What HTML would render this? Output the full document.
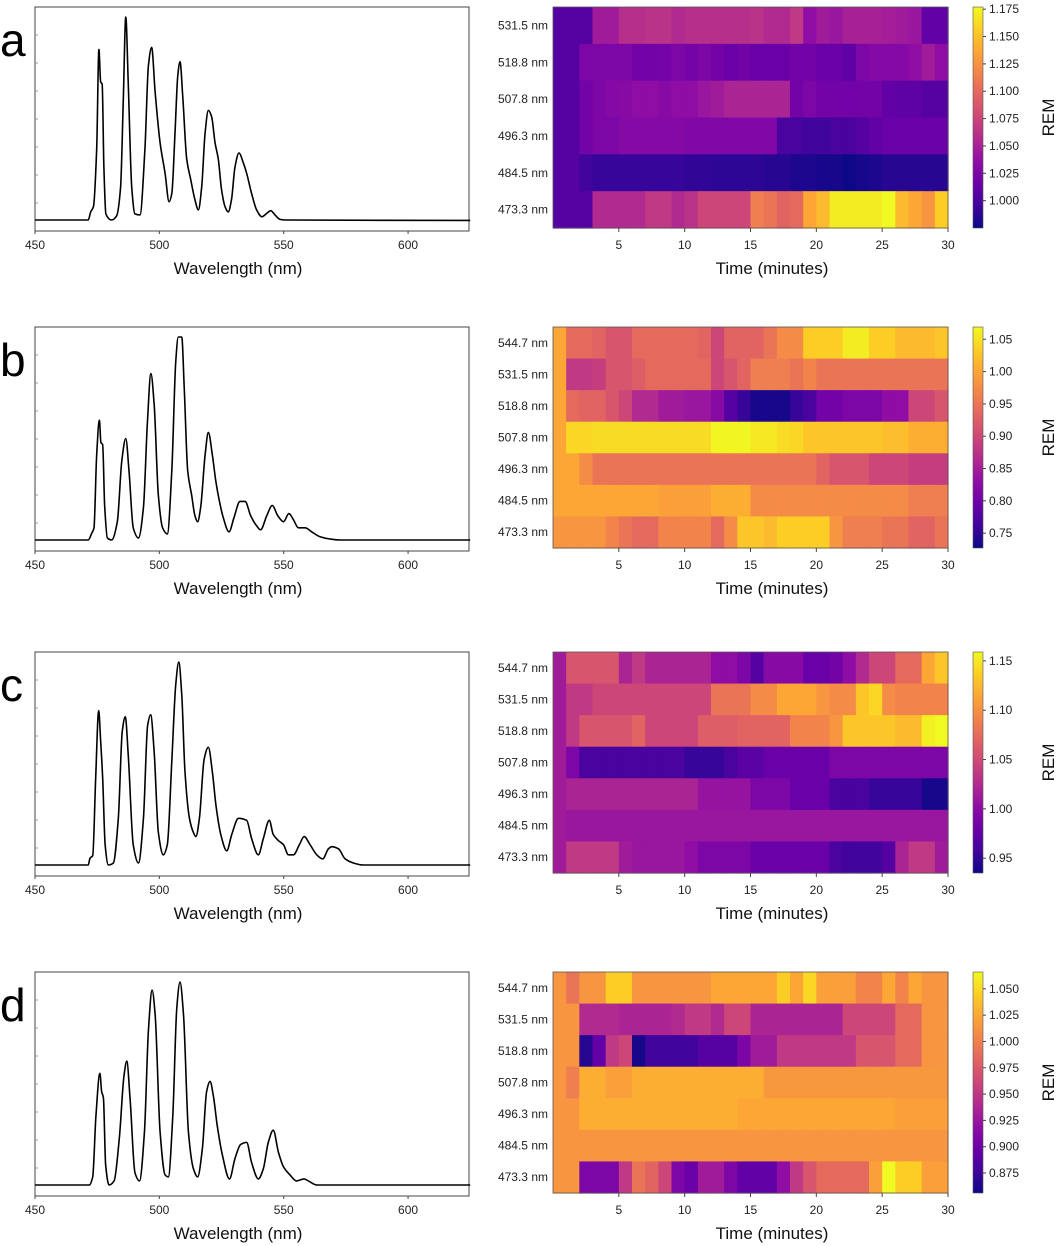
<!DOCTYPE html>
<html><head><meta charset="utf-8"><style>
html,body{margin:0;padding:0;background:#fff;}
svg{display:block;font-family:"Liberation Sans",Arial,sans-serif;}
</style></head><body>
<svg id="fig" width="1059" height="1246" viewBox="0 0 1059 1246" xmlns="http://www.w3.org/2000/svg">
<defs>
<linearGradient id="plasma" x1="0" y1="1" x2="0" y2="0">
<stop offset="0" stop-color="#0d0887"/><stop offset="0.1" stop-color="#41049d"/><stop offset="0.2" stop-color="#6a00a8"/><stop offset="0.3" stop-color="#8f0da4"/><stop offset="0.4" stop-color="#b12a90"/><stop offset="0.5" stop-color="#cc4778"/><stop offset="0.6" stop-color="#e16462"/><stop offset="0.7" stop-color="#f2844b"/><stop offset="0.8" stop-color="#fca636"/><stop offset="0.9" stop-color="#fcce25"/><stop offset="1" stop-color="#f0f921"/>
</linearGradient>
</defs>
</svg>
<script>
// ---------- data ----------
const panelLetters = ["a","b","c","d"];
const wlTicks = [450,500,550,600];
const timeTicks = [5,10,15,20,25,30];
const rowsA = ["531.5 nm","518.8 nm","507.8 nm","496.3 nm","484.5 nm","473.3 nm"];
const rowsB = ["544.7 nm","531.5 nm","518.8 nm","507.8 nm","496.3 nm","484.5 nm","473.3 nm"];
// spectra: [wavelength nm, normalized intensity]
const specA = [[450,0],[471.4,0],[472.4,.04],[473.5,.066],[474.8,.35],[475.7,.84],[476.4,.68],[477,.67],[477.7,.26],[478.5,.03],[480.8,0],[482.8,.02],[484.4,.16],[485.5,.59],[486.5,1],[487.5,.67],[488.9,.16],[490.2,.03],[492.2,.025],[494.2,.35],[495.6,.76],[496.9,.85],[498.3,.63],[500.3,.38],[502.3,.23],[503.9,.09],[505,.13],[506.3,.43],[507.4,.71],[508.3,.78],[509.4,.61],[511,.30],[512.6,.2],[514.3,.1],[515.7,.05],[517,.16],[518.4,.43],[519.7,.54],[521,.51],[522.4,.38],[523.7,.3],[525,.15],[526.4,.066],[527.7,.04],[529,.1],[530.4,.26],[532,.33],[533.8,.28],[535.1,.23],[537.1,.13],[539.1,.05],[541.2,.016],[543.2,.033],[544.8,.046],[546.5,.025],[548.5,.003],[551,0],[625,-0.002]];
const specB = [[450,0],[471.4,0],[472.8,.033],[473.7,.058],[474.8,.42],[475.9,.59],[476.5,.48],[477.2,.47],[478,.17],[479.1,.01],[480.8,0],[483.1,.09],[484.9,.39],[486.5,.5],[487.8,.34],[489.5,.06],[491.6,.01],[493.6,.16],[495.2,.58],[496.6,.82],[497.9,.67],[499.6,.22],[501.3,.06],[503.2,.03],[505,.34],[506.6,.88],[507.6,1],[509,1],[510,.75],[511.4,.34],[513,.22],[514.3,.12],[515.4,.09],[516.6,.16],[518.4,.42],[519.7,.53],[521.3,.42],[522.7,.29],[524,.2],[525.7,.11],[528,.04],[530,.11],[532.4,.19],[534.5,.19],[536.7,.12],[539.1,.07],[540.7,.05],[543.2,.12],[545.4,.17],[547.6,.12],[549.9,.09],[552.1,.13],[553.9,.1],[555.9,.06],[558.6,.06],[561.3,.04],[564.6,.016],[568.6,.005],[572.7,0],[625,0]];
const specC = [[450,0],[471.4,0],[472.1,.033],[473.2,.046],[474.4,.43],[475.6,.76],[476.4,.61],[477.2,.43],[478.2,.1],[479.5,0],[481.5,.01],[483.5,.23],[485.1,.66],[486.3,.73],[487.5,.54],[489.5,.1],[491.6,.01],[493.6,.23],[495.3,.69],[496.5,.74],[497.9,.56],[499.6,.16],[501.6,.05],[503.2,.1],[505,.51],[506.6,.89],[507.8,1],[509,.84],[510.3,.46],[512.1,.23],[513.7,.16],[514.7,.14],[516.1,.23],[518,.52],[519.7,.58],[521.3,.46],[522.8,.29],[524.7,.15],[527.1,.07],[529.1,.15],[531.8,.23],[535.1,.22],[537.1,.13],[539.8,.05],[541.8,.13],[544.2,.22],[545.8,.15],[547.9,.12],[549.9,.1],[551.9,.05],[553.9,.05],[556.3,.1],[558.2,.14],[560.6,.1],[563.3,.05],[565.7,.03],[568,.08],[569.3,.09],[572,.08],[574.7,.03],[578,.01],[582,0],[625,0]];
const specD = [[450,0],[471.8,0],[473.2,.04],[474.5,.34],[476.1,.55],[476.8,.46],[477.5,.43],[478.4,.1],[479.8,0],[481.8,.02],[483.9,.23],[485.8,.54],[486.9,.61],[488.2,.43],[490.2,.06],[492,.02],[494,.26],[495.6,.76],[497.1,.96],[498.3,.84],[500.3,.26],[502.3,.05],[503.6,.04],[505.4,.34],[507,.87],[508.3,1],[509.7,.84],[511.7,.26],[513.7,.08],[515.4,.04],[517.3,.18],[519,.46],[520.4,.51],[521.7,.44],[523.3,.29],[525.3,.15],[528.2,.03],[530.4,.13],[532.7,.2],[535.1,.21],[537.1,.11],[539.8,.03],[541.8,.08],[543.8,.21],[545.8,.27],[547.9,.16],[549.9,.09],[552.5,.05],[555.2,.02],[558.2,.03],[559.9,.02],[563.3,0],[625,0]];
// heatmap values as fraction of colorbar range (0 = bottom, 1 = top), 30 one-minute columns
const heatA = [
[.15,.15,.15,.35,.35,.42,.42,.43,.43,.4,.42,.42,.42,.42,.42,.43,.4,.4,.45,.3,.35,.33,.37,.37,.37,.36,.35,.33,.18,.18],
[.15,.15,.25,.25,.25,.25,.22,.22,.23,.25,.23,.25,.22,.2,.22,.2,.2,.2,.22,.22,.2,.2,.17,.25,.27,.27,.27,.3,.35,.3],
[.15,.15,.22,.25,.27,.28,.3,.3,.28,.3,.3,.33,.35,.38,.38,.38,.38,.38,.22,.25,.22,.22,.22,.22,.22,.18,.17,.17,.15,.15],
[.15,.15,.22,.25,.25,.27,.27,.27,.27,.27,.26,.26,.26,.26,.26,.26,.26,.12,.12,.1,.1,.12,.12,.15,.18,.2,.2,.2,.2,.2],
[.15,.15,.1,.08,.08,.08,.08,.08,.08,.08,.07,.07,.06,.06,.06,.06,.05,.05,.03,.03,.02,.02,0,.02,.03,.05,.05,.05,.05,.05],
[.15,.15,.15,.4,.4,.4,.4,.45,.45,.4,.43,.5,.5,.5,.5,.68,.65,.6,.62,.8,.85,.97,.97,.97,.97,1,.85,.8,.75,.9]];
const heatB = [
[.8,.62,.62,.6,.55,.55,.62,.62,.62,.62,.62,.6,.5,.6,.6,.6,.65,.72,.72,.9,.9,.9,.97,.97,.9,.9,.85,.85,.85,.88],
[.8,.45,.45,.47,.55,.55,.58,.62,.62,.62,.62,.62,.5,.55,.6,.68,.68,.68,.65,.7,.65,.65,.65,.65,.65,.65,.65,.65,.65,.65],
[.8,.62,.6,.6,.55,.5,.4,.4,.35,.35,.33,.33,.28,.15,.08,.02,.02,.02,.08,.12,.22,.22,.25,.25,.25,.3,.3,.5,.5,.55],
[.8,.92,.92,.93,.93,.93,.93,.93,.93,.93,.93,.93,.99,.99,.99,.96,.96,.93,.92,.88,.88,.88,.88,.88,.88,.86,.86,.82,.82,.82],
[.8,.8,.72,.65,.65,.65,.65,.65,.65,.65,.65,.65,.65,.65,.65,.65,.65,.65,.65,.65,.6,.55,.55,.55,.5,.5,.5,.47,.47,.47],
[.8,.8,.8,.8,.8,.8,.8,.8,.78,.78,.78,.78,.82,.82,.82,.72,.72,.72,.72,.72,.72,.72,.72,.72,.72,.72,.72,.68,.68,.68],
[.75,.75,.75,.75,.7,.65,.62,.62,.7,.7,.7,.7,.62,.72,.88,.88,.85,.9,.9,.9,.9,.75,.68,.68,.68,.65,.65,.6,.6,.65]];
const heatC = [
[.35,.55,.55,.55,.55,.38,.45,.38,.38,.38,.38,.38,.3,.3,.25,.15,.28,.28,.28,.2,.2,.22,.3,.4,.5,.5,.62,.62,.8,.88],
[.35,.45,.45,.5,.5,.5,.5,.5,.5,.5,.5,.5,.65,.65,.65,.72,.72,.8,.8,.8,.75,.72,.72,.88,.92,.72,.7,.7,.7,.7],
[.35,.45,.55,.55,.55,.55,.6,.5,.5,.5,.5,.58,.58,.58,.6,.6,.6,.6,.7,.7,.7,.75,.88,.88,.88,.88,.85,.85,.98,1],
[.35,.25,.12,.12,.12,.12,.12,.12,.12,.12,.08,.08,.08,.12,.16,.16,.2,.2,.2,.2,.2,.25,.25,.25,.25,.25,.25,.25,.25,.25],
[.35,.38,.38,.38,.38,.38,.38,.38,.38,.38,.38,.32,.32,.32,.32,.25,.25,.25,.2,.2,.2,.12,.12,.12,.08,.08,.08,.08,.02,.02],
[.35,.33,.33,.33,.33,.33,.33,.33,.33,.33,.33,.33,.33,.33,.33,.33,.33,.33,.33,.33,.33,.33,.33,.33,.33,.33,.33,.33,.33,.33],
[.35,.45,.45,.45,.45,.35,.33,.33,.33,.33,.3,.25,.25,.25,.25,.2,.2,.2,.2,.2,.2,.12,.1,.1,.1,.15,.38,.45,.45,.35]];
const heatD = [
[.75,.65,.75,.75,.9,.9,.75,.75,.75,.75,.75,.75,.8,.8,.8,.8,.8,.9,.8,.92,.78,.78,.78,.7,.7,.8,.7,.8,.75,.75],
[.75,.75,.4,.4,.4,.38,.38,.38,.38,.4,.45,.45,.4,.5,.5,.38,.38,.38,.38,.38,.38,.38,.5,.5,.5,.5,.62,.62,.75,.75],
[.75,.75,.05,.18,.45,.5,.02,.1,.1,.1,.1,.15,.15,.15,.25,.35,.35,.45,.45,.45,.45,.45,.45,.55,.55,.55,.62,.62,.75,.75],
[.75,.68,.82,.82,.78,.78,.82,.82,.82,.82,.82,.82,.82,.82,.82,.82,.76,.76,.76,.76,.76,.76,.76,.76,.76,.76,.76,.76,.76,.76],
[.75,.75,.82,.82,.82,.82,.82,.82,.82,.82,.82,.82,.82,.82,.8,.8,.8,.8,.8,.8,.8,.8,.8,.8,.8,.8,.78,.78,.78,.78],
[.75,.75,.75,.75,.75,.75,.75,.75,.75,.75,.75,.75,.75,.75,.75,.75,.75,.75,.75,.75,.75,.75,.75,.75,.75,.75,.75,.75,.75,.75],
[.75,.75,.25,.25,.25,.45,.65,.6,.5,.25,.2,.35,.35,.25,.18,.18,.18,.3,.45,.55,.62,.62,.62,.62,.78,1,.9,.9,.78,.78]];
const cbDomainA = [0.975,1.177], cbTicksA = [1.000,1.025,1.050,1.075,1.100,1.125,1.150,1.175];
const cbDomainB = [0.727,1.069], cbTicksB = [0.75,0.80,0.85,0.90,0.95,1.00,1.05];
const cbDomainC = [0.935,1.159], cbTicksC = [0.95,1.00,1.05,1.10,1.15];
const cbDomainD = [0.856,1.066], cbTicksD = [0.875,0.900,0.925,0.950,0.975,1.000,1.025,1.050];
const cbDecimals = [3,2,2,3];

// ---------- drawing ----------
const svg = document.getElementById('fig');
const NS = 'http://www.w3.org/2000/svg';
function mk(tag, attrs, parent){const e=document.createElementNS(NS,tag);for(const k in attrs)e.setAttribute(k,attrs[k]);(parent||svg).appendChild(e);return e;}
const stops=[[0,[13,8,135]],[.1,[65,4,157]],[.2,[106,0,168]],[.3,[143,13,164]],[.4,[177,42,144]],[.5,[204,71,120]],[.6,[225,100,98]],[.7,[242,132,75]],[.8,[252,166,54]],[.9,[252,206,37]],[1,[240,249,33]]];
function plasma(t){t=Math.max(0,Math.min(1,t));for(let i=1;i<stops.length;i++){if(t<=stops[i][0]){const a=stops[i-1],b=stops[i],f=(t-a[0])/(b[0]-a[0]);const c=a[1].map((v,j)=>Math.round(v+(b[1][j]-v)*f));return `rgb(${c[0]},${c[1]},${c[2]})`;}}return 'rgb(240,249,33)';}
// monotone cubic (Fritsch-Carlson) path — no overshoot
function smoothPath(pts){
  const n=pts.length,dx=[],dy=[],m=[],s=[];
  for(let i=0;i<n-1;i++){dx[i]=pts[i+1][0]-pts[i][0];dy[i]=pts[i+1][1]-pts[i][1];s[i]=dy[i]/dx[i];}
  m[0]=s[0];m[n-1]=s[n-2];
  for(let i=1;i<n-1;i++){if(s[i-1]*s[i]<=0)m[i]=0;else{const w1=2*dx[i]+dx[i-1],w2=dx[i]+2*dx[i-1];m[i]=(w1+w2)/(w1/s[i-1]+w2/s[i]);}}
  let d=`M${pts[0][0].toFixed(2)},${pts[0][1].toFixed(2)}`;
  for(let i=0;i<n-1;i++){const h=dx[i]/3;d+=` C${(pts[i][0]+h).toFixed(2)},${(pts[i][1]+m[i]*h).toFixed(2)} ${(pts[i+1][0]-h).toFixed(2)},${(pts[i+1][1]-m[i+1]*h).toFixed(2)} ${pts[i+1][0].toFixed(2)},${pts[i+1][1].toFixed(2)}`;}
  return d;
}

const offsets=[0,320,645,965];
const specs=[specA,specB,specC,specD];
const heats=[heatA,heatB,heatC,heatD];
const rowSets=[rowsA,rowsB,rowsB,rowsB];
const domains=[cbDomainA,cbDomainB,cbDomainC,cbDomainD];
const cbTickSets=[cbTicksA,cbTicksB,cbTicksC,cbTicksD];

for(let p=0;p<4;p++){
  const o=offsets[p];
  const g=mk('g',{});
  
  
  const letter=mk('text',{x:0,y:o+56,'font-size':46,fill:'#000'},g);
  letter.textContent=panelLetters[p];
  
  
  // spectrum
  const L=35,R=469,T=o+7,B=o+231;
  const xS=nm=>L+(nm-450)*(R-L)/(624.5-450);
  const yS=v=>o+220-v*203;
  const sg=mk('g',{},g);
  
  
  const box=mk('rect',{x:L,y:T,width:R-L,height:B-T,fill:'none',stroke:'#444','stroke-width':1},sg);
  
  
  for(let k=1;k<8;k++){const yy=T+k*(B-T)/8;const tk=mk('line',{x1:L,x2:L+3,y1:yy,y2:yy,stroke:'#888','stroke-width':0.8},sg);}
  const line=mk('path',{d:smoothPath(specs[p].map(q=>[xS(q[0]),yS(q[1])])),fill:'none',stroke:'#000','stroke-width':1.6,'stroke-linejoin':'round'},sg);
  
  
  for(const t of wlTicks){
    const tk=mk('line',{x1:xS(t),x2:xS(t),y1:B,y2:B+3,stroke:'#444'},sg);
    
    
    const lb=mk('text',{x:xS(t),y:o+249,'font-size':12,'text-anchor':'middle',fill:'#222'},sg);
    lb.textContent=t;
    
    
  }
  const xt=mk('text',{x:238,y:o+274,'font-size':17,'text-anchor':'middle',fill:'#111'},sg);
  xt.textContent='Wavelength (nm)';
  
  
  // heatmap
  const HL=553,HR=948,HT=o+7,HB=o+228;
  const hg=mk('g',{},g);
  
  
  const rows=heats[p],nr=rows.length,nc=rows[0].length,rh=(HB-HT)/nr,cw=(HR-HL)/nc;
  rows.forEach((row,ri)=>{
    row.forEach((v,ci)=>{
      const c=mk('rect',{x:HL+ci*cw,y:HT+ri*rh,width:cw+0.6,height:rh+0.6,fill:plasma(v)},hg);
      
      
    });
    const lb=mk('text',{x:HL-5,y:HT+ri*rh+rh/2+4,'font-size':12,'text-anchor':'end',fill:'#222'},hg);
    lb.textContent=rowSets[p][ri];
    
    
  });
  const hf=mk('rect',{x:HL,y:HT,width:HR-HL,height:HB-HT,fill:'none',stroke:'#555','stroke-width':0.8},hg);
  
  
  const xT=t=>HR-(30-t)*cw;
  for(const t of timeTicks){
    const tk=mk('line',{x1:xT(t),x2:xT(t),y1:HB,y2:HB+4,stroke:'#444'},hg);
    
    
    const lb=mk('text',{x:xT(t),y:o+249,'font-size':12,'text-anchor':'middle',fill:'#222'},hg);
    lb.textContent=t;
    
    
  }
  const ht=mk('text',{x:772,y:o+274,'font-size':17,'text-anchor':'middle',fill:'#111'},hg);
  ht.textContent='Time (minutes)';
  
  
  // colorbar
  const cg=mk('g',{},g);
  
  
  const cb=mk('rect',{x:973,y:HT,width:10,height:HB-HT,fill:'url(#plasma)',stroke:'#555','stroke-width':0.6},cg);
  
  
  const dm=domains[p];
  const yC=v=>HB-(v-dm[0])/(dm[1]-dm[0])*(HB-HT);
  for(const t of cbTickSets[p]){
    const tk=mk('line',{x1:983,x2:986,y1:yC(t),y2:yC(t),stroke:'#444'},cg);
    
    
    const lb=mk('text',{x:989,y:yC(t)+4,'font-size':12,fill:'#222'},cg);
    lb.textContent=t.toFixed(cbDecimals[p]);
    
    
  }
  const rem=mk('text',{x:0,y:0,'font-size':17,'text-anchor':'middle',fill:'#111',transform:`translate(1054,${(HT+HB)/2}) rotate(-90)`},cg);
  rem.textContent='REM';
  
  
}
</script>
</body></html>
